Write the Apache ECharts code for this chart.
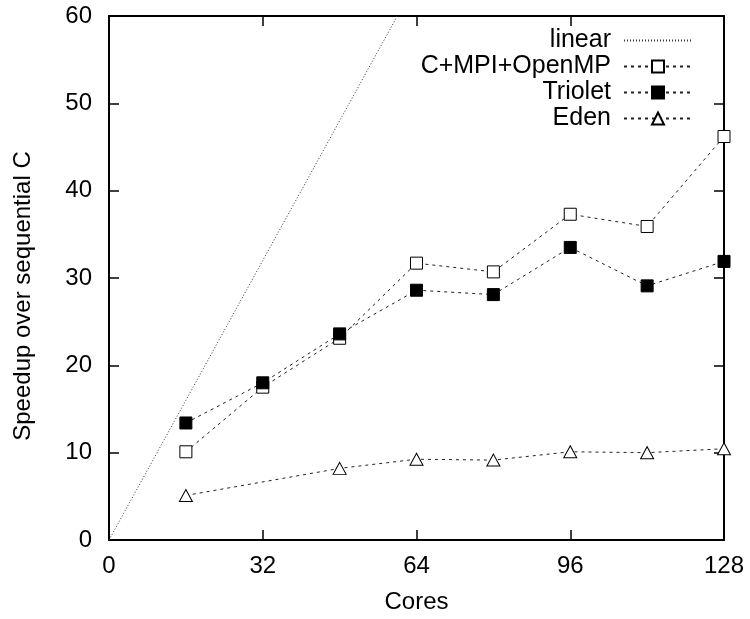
<!DOCTYPE html>
<html>
<head>
<meta charset="utf-8">
<script src="https://cdn.jsdelivr.net/npm/echarts@6/dist/echarts.min.js"></script>
<style>html,body{margin:0;padding:0;background:#fff;}#c{width:750px;height:619px;}</style>
</head>
<body>
<div id="c"></div>
<script>
const cores = [16, 32, 48, 64, 80, 96, 112, 128];
const mpiOpenMP = [10.1, 17.5, 23.1, 31.7, 30.7, 37.3, 35.9, 46.2];
const triolet = [13.4, 18.0, 23.6, 28.6, 28.1, 33.5, 29.1, 31.9];
const edenCores = [16, 48, 64, 80, 96, 112, 128];
const eden = [5.1, 8.2, 9.25, 9.15, 10.1, 10.0, 10.45];
const linearCores = [0, 128];
const linearSpeedup = [0, 128];
const seriesNames = ['linear', 'C+MPI+OpenMP', 'Triolet', 'Eden'];
const xLabel = 'Cores';
const yLabel = 'Speedup over sequential C';

const FONT = 'Liberation Sans';
const pair = (xs, ys) => xs.map((x, i) => [x, ys[i]]);

const axisLineStyle = () => ({ show: true, onZero: false, lineStyle: { color: '#000', width: 2 } });
const tickStyle = () => ({ show: true, inside: true, length: 10, lineStyle: { color: '#000', width: 1.5 } });

const dash = () => ({ color: '#222', width: 1, type: [3, 4] });

const legendBase = (name, top, extra) => Object.assign({
  data: [name], orient: 'vertical', right: 57, top: top, align: 'right',
  padding: 0, itemWidth: 68, itemHeight: 15,
  textStyle: { fontFamily: FONT, fontSize: 25, color: '#000', padding: [0, 8, 0, 0] },
  selectedMode: false
}, extra || {});

const chart = echarts.init(document.getElementById('c'));
chart.setOption({
  animation: false,
  backgroundColor: '#fff',
  grid: { left: 109, right: 26, top: 16, bottom: 78, containLabel: false },
  legend: [
    legendBase(seriesNames[0], 28, { itemStyle: { opacity: 0 } }),
    legendBase(seriesNames[1], 54),
    legendBase(seriesNames[2], 80),
    legendBase(seriesNames[3], 106)
  ],
  xAxis: [{
    type: 'value', min: 0, max: 128, interval: 32, position: 'bottom',
    name: xLabel, nameLocation: 'middle', nameGap: 50,
    nameTextStyle: { fontFamily: FONT, fontSize: 24, color: '#000' },
    axisLine: axisLineStyle(), axisTick: tickStyle(),
    axisLabel: { fontFamily: FONT, fontSize: 24, color: '#000', margin: 14 },
    splitLine: { show: false }
  }, {
    type: 'value', min: 0, max: 128, interval: 32, position: 'top',
    axisLine: axisLineStyle(), axisTick: tickStyle(),
    axisLabel: { show: false }, splitLine: { show: false }
  }],
  yAxis: [{
    type: 'value', min: 0, max: 60, interval: 10, position: 'left',
    name: yLabel, nameLocation: 'middle', nameGap: 74, nameRotate: 90,
    nameTextStyle: { fontFamily: FONT, fontSize: 24, color: '#000', padding: [0, 36, 0, 0] },
    axisLine: axisLineStyle(), axisTick: tickStyle(),
    axisLabel: { fontFamily: FONT, fontSize: 24, color: '#000', margin: 17 },
    splitLine: { show: false }
  }, {
    type: 'value', min: 0, max: 60, interval: 10, position: 'right',
    axisLine: axisLineStyle(), axisTick: tickStyle(),
    axisLabel: { show: false }, splitLine: { show: false }
  }],
  series: [{
    name: seriesNames[0], type: 'line', data: pair(linearCores, linearSpeedup),
    symbol: 'none', clip: true,
    lineStyle: { color: '#333', width: 1, type: [1, 2] },
    itemStyle: { color: '#333' }
  }, {
    name: seriesNames[1], type: 'line', data: pair(cores, mpiOpenMP),
    symbol: 'rect', symbolSize: 12, clip: false,
    lineStyle: dash(),
    itemStyle: { color: '#fff', borderColor: '#000', borderWidth: 1 }
  }, {
    name: seriesNames[2], type: 'line', data: pair(cores, triolet),
    symbol: 'rect', symbolSize: 12, clip: false,
    lineStyle: dash(),
    itemStyle: { color: '#000', borderColor: '#000', borderWidth: 1 }
  }, {
    name: seriesNames[3], type: 'line', data: pair(edenCores, eden),
    symbol: 'triangle', symbolSize: [13, 12], clip: false,
    lineStyle: dash(),
    itemStyle: { color: '#fff', borderColor: '#000', borderWidth: 1 }
  }]
});
</script>
</body>
</html>
